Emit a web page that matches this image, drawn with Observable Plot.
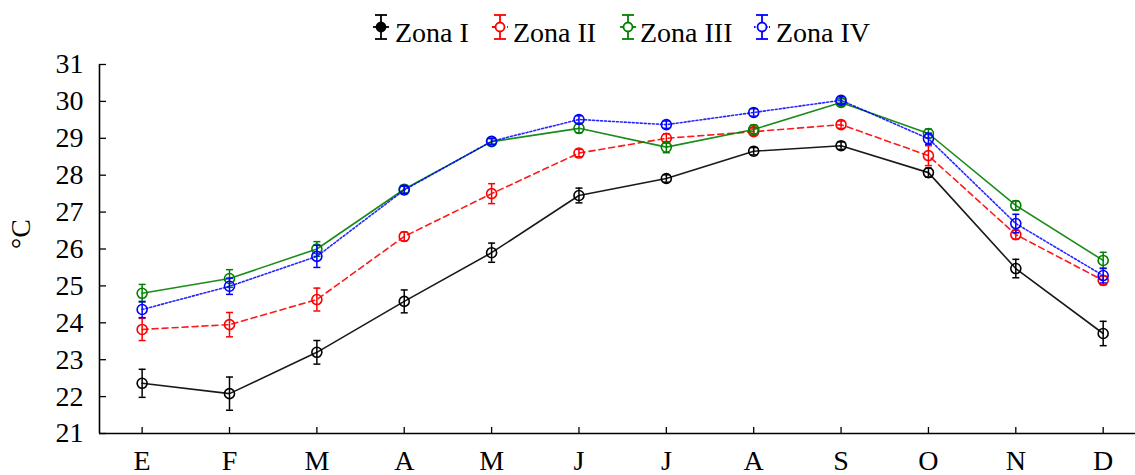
<!DOCTYPE html>
<html>
<head>
<meta charset="utf-8">
<script src="https://cdn.jsdelivr.net/npm/d3@7"></script>
<script src="https://cdn.jsdelivr.net/npm/@observablehq/plot@0.6"></script>
<style>
  body { margin: 0; background: #fff; font-family: "Liberation Serif", "Times New Roman", serif; }
  #legend { position: relative; width: 1135px; height: 50px; }
  #legend svg { position: absolute; top: 0; }
  #legend span { position: absolute; top: 19px; font-size: 28px; line-height: 28px; color: #000; white-space: nowrap; }
  #chart svg { display: block; }
</style>
</head>
<body>
<div id="legend"></div>
<div id="chart"></div>
<script>
// Monthly mean temperature (°C) per zone, with error bars
const months = ["E", "F", "M", "A", "M", "J", "J", "A", "S", "O", "N", "D"];
const zones = ["Zona I", "Zona II", "Zona III", "Zona IV"];
const colors = ["#000000", "#ff0000", "#008000", "#0000ff"];
const dashes = [null, "6,4", null, "2,2"];

const zona1 = [22.36, 22.08, 23.20, 24.58, 25.90, 27.45, 27.91, 28.65, 28.80, 28.07, 25.47, 23.71];
const err1  = [0.38, 0.45, 0.32, 0.31, 0.26, 0.20, 0.10, 0.10, 0.10, 0.12, 0.25, 0.33];
const zona2 = [23.82, 23.95, 24.63, 26.34, 27.50, 28.60, 29.00, 29.18, 29.37, 28.53, 26.39, 25.15];
const err2  = [0.30, 0.33, 0.31, 0.12, 0.27, 0.10, 0.12, 0.10, 0.10, 0.27, 0.12, 0.12];
const zona3 = [24.80, 25.20, 26.00, 27.62, 28.91, 29.27, 28.76, 29.24, 29.97, 29.13, 27.18, 25.69];
const err3  = [0.24, 0.24, 0.20, 0.10, 0.08, 0.12, 0.15, 0.12, 0.10, 0.12, 0.12, 0.22];
const zona4 = [24.36, 24.99, 25.80, 27.60, 28.92, 29.51, 29.37, 29.70, 30.03, 28.99, 26.69, 25.28];
const err4  = [0.22, 0.22, 0.30, 0.10, 0.08, 0.10, 0.10, 0.10, 0.10, 0.15, 0.25, 0.20];

const yTicks = [21, 22, 23, 24, 25, 26, 27, 28, 29, 30, 31];

const values = [zona1, zona2, zona3, zona4];
const errors = [err1, err2, err3, err4];

const series = zones.map((zone, z) =>
  months.map((m, i) => ({zone, i, value: values[z][i], err: errors[z][i]}))
);

const font = "Liberation Serif, Times New Roman, serif";
const xDomain = [-0.488, 11.37];

// horizontal cap for the error bars
const cap = {
  draw(context, size) {
    const w = Math.sqrt(size / Math.PI);
    context.moveTo(-w, 0);
    context.lineTo(w, 0);
  }
};

const marks = [
  Plot.ruleY([21], {stroke: "#000", strokeWidth: 1.6}),
  Plot.ruleX([xDomain[0]], {y1: 21, y2: 31, stroke: "#000", strokeWidth: 1.6}),
  Plot.axisY({ticks: yTicks, label: null, tickSize: -7, tickPadding: 23, fontSize: 28, fontFamily: font, fill: "#000", stroke: "#000", strokeWidth: 1.3}),
  Plot.axisX({ticks: months.map((m, i) => i), label: null, tickFormat: i => months[i], tickSize: -6, tickPadding: 23, fontSize: 28, fontFamily: font, fill: "#000", stroke: "#000", strokeWidth: 1.3}),
  Plot.text(["°C"], {frameAnchor: "left", dx: -78, rotate: -90, fontSize: 28, fontFamily: font, fill: "#000"})
];

series.forEach((rows, z) => {
  const color = colors[z];
  marks.push(
    Plot.line(rows, {x: "i", y: "value", stroke: color, strokeWidth: 1.6, strokeDasharray: dashes[z], strokeOpacity: z === 3 ? 0.85 : 0.9}),
    Plot.ruleX(rows, {x: "i", y1: d => d.value - d.err, y2: d => d.value + d.err, stroke: color, strokeWidth: 1.5}),
    Plot.dot(rows, {x: "i", y: d => d.value + d.err, symbol: cap, r: 3.5, fill: "none", stroke: color, strokeWidth: 1.5}),
    Plot.dot(rows, {x: "i", y: d => d.value - d.err, symbol: cap, r: 3.5, fill: "none", stroke: color, strokeWidth: 1.5}),
    Plot.dot(rows, {x: "i", y: "value", r: 5, fill: "none", stroke: color, strokeWidth: 1.6})
  );
});

const chart = Plot.plot({
  width: 1135,
  height: 425,
  marginTop: 14,
  marginBottom: 42,
  marginLeft: 99,
  marginRight: 0,
  style: {fontFamily: font, background: "#fff", overflow: "visible"},
  x: {type: "linear", domain: xDomain, axis: null},
  y: {type: "linear", domain: [21, 31], axis: null},
  marks
});
document.getElementById("chart").appendChild(chart);

// legend: error-bar symbol followed by the zone name
const legend = document.getElementById("legend");
const iconCenters = [381, 500, 628, 762];
const textLefts = [395, 513, 640, 776];
const ns = "http://www.w3.org/2000/svg";
zones.forEach((zone, z) => {
  const svg = document.createElementNS(ns, "svg");
  svg.setAttribute("width", 20);
  svg.setAttribute("height", 50);
  svg.style.left = (iconCenters[z] - 10) + "px";
  const c = colors[z];
  const parts = [
    ["line", {x1: 2, x2: 18, y1: 27, y2: 27, "stroke-dasharray": dashes[z] ? (z === 1 ? "3,2" : "1.5,1.5") : null}],
    ["line", {x1: 10, x2: 10, y1: 15, y2: 39}],
    ["line", {x1: 4, x2: 16, y1: 15, y2: 15}],
    ["line", {x1: 4, x2: 16, y1: 39, y2: 39}],
    ["circle", {cx: 10, cy: 27, r: 4.5, fill: z === 0 ? "#000" : "#fff"}]
  ];
  parts.forEach(([tag, attrs]) => {
    const el = document.createElementNS(ns, tag);
    for (const k in attrs) if (attrs[k] != null) el.setAttribute(k, attrs[k]);
    el.setAttribute("stroke", c);
    el.setAttribute("stroke-width", 1.8);
    svg.appendChild(el);
  });
  legend.appendChild(svg);
  const span = document.createElement("span");
  span.textContent = zone;
  span.style.left = textLefts[z] + "px";
  legend.appendChild(span);
});
</script>
</body>
</html>
